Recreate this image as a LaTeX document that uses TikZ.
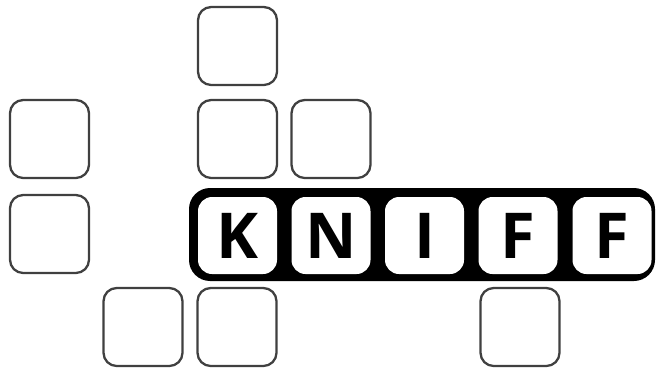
\documentclass[tikz,border=0pt]{standalone}
\usepackage{fontspec}
\setmainfont{Open Sans}
\usetikzlibrary{positioning,calc}
\tikzset{
  cell/.style={draw=black!75,line width=1.3pt,fill=white,rounded corners=7.5pt,
    minimum width=1.58cm,minimum height=1.56cm,inner sep=0pt},
  key/.style={fill=white,rounded corners=8pt,minimum width=1.58cm,minimum height=1.54cm,
    inner sep=0pt,font=\fontsize{36}{36}\selectfont\bfseries},
  band/.style={fill=black,rounded corners=12pt},
}

\begin{document}
\begin{tikzpicture}
\useasboundingbox (0,0) rectangle (13.14,-7.38);
% grid cells
\node[cell] (a1) at (4.75,-0.92) {};
\node[cell] (b1) at (0.99,-2.78) {};
\node[cell] (b2) at (4.75,-2.78) {};
\node[cell] (b3) at (6.62,-2.78) {};
\node[cell] (c1) at (0.99,-4.68) {};
\node[cell] (d1) at (2.86,-6.54) {};
\node[cell] (d2) at (4.74,-6.54) {};
\node[cell] (d3) at (10.40,-6.54) {};
% word
\coordinate (bandtl) at (3.78,-3.76);
\coordinate (bandbr) at (13.10,-5.62);
\fill[band] (bandtl) rectangle (bandbr);
\node[key] (k) at (4.75,-4.71) {K};
\node[key] (n) at (6.62,-4.71) {N};
\node[key] (i) at (8.49,-4.71) {I};
\node[key] (f1) at (10.36,-4.71) {F};
\node[key] (f2) at (12.24,-4.71) {F};
\end{tikzpicture}
\end{document}
